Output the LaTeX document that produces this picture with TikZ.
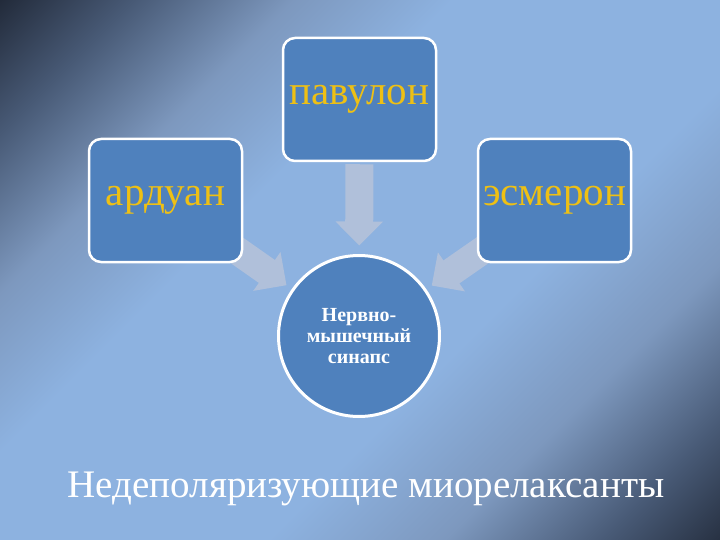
\documentclass[tikz,border=0pt]{standalone}
\usepackage{fontspec}
\setmainfont{Liberation Serif}
\usetikzlibrary{arrows.meta}
\pgfdeclarelayer{background}
\pgfsetlayers{background,main}

\definecolor{boxblue}{RGB}{79,129,189}
\definecolor{drugtext}{RGB}{238,192,20}
\definecolor{arrowgray}{RGB}{176,192,218}
\definecolor{bga}{RGB}{12,14,20}
\definecolor{bgb}{RGB}{32,40,55}
\definecolor{bgc}{RGB}{72,90,118}
\definecolor{bgd}{RGB}{125,152,190}
\definecolor{bge}{RGB}{141,178,224}
\pgfdeclarehorizontalshading{slidebg}{100bp}{color(0bp)=(bga); color(14bp)=(bgb);
  color(22bp)=(bgc); color(31bp)=(bgd); color(40bp)=(bge); color(60bp)=(bge);
  color(70bp)=(bgd); color(79bp)=(bgc); color(87bp)=(bgb); color(100bp)=(bga)}

\begin{document}
\begin{tikzpicture}[x=1pt,y=-1pt,
    drug/.style={draw=white, line width=2.5pt, fill=boxblue, rounded corners=12pt,
      minimum width=153pt, minimum height=123pt, text=drugtext,
      font=\fontsize{41}{44}\selectfont},
    synapse/.style={circle, draw=white, line width=3pt, fill=boxblue, minimum size=161pt,
      text=white, align=center, font=\bfseries\fontsize{20}{21}\selectfont},
    bigarrow/.style={draw=arrowgray, line width=28pt, -{Triangle[width=46pt,length=24pt]}}]
        \node (pavulon) [drug] at (359.5,99.5) {павулон};
        \node (arduan) [drug] at (165.5,200.5) {ардуан};
        \node (esmeron) [drug] at (554.5,200.5) {эсмерон};
        \node (synapse) [synapse] at (359,336) {Нервно-\\мышечный\\синапс};
        \node (title) [anchor=base, text=white, font=\fontsize{39}{42}\selectfont] at (366,497)
            {Недеполяризующие миорелаксанты};

        \begin{pgfonlayer}{background}
        \shade[shading=slidebg, shading angle=-45] (0,0) rectangle (720,540);
        \draw[bigarrow, shorten <=2pt, shorten >=8.5pt] (pavulon) -- (synapse);
        \draw[bigarrow, shorten <=-13pt, shorten >=6.5pt] (arduan) -- (synapse);
        \draw[bigarrow, shorten <=-13pt, shorten >=6.5pt] (esmeron) -- (synapse);
        \end{pgfonlayer}
    \end{tikzpicture}
\end{document}
